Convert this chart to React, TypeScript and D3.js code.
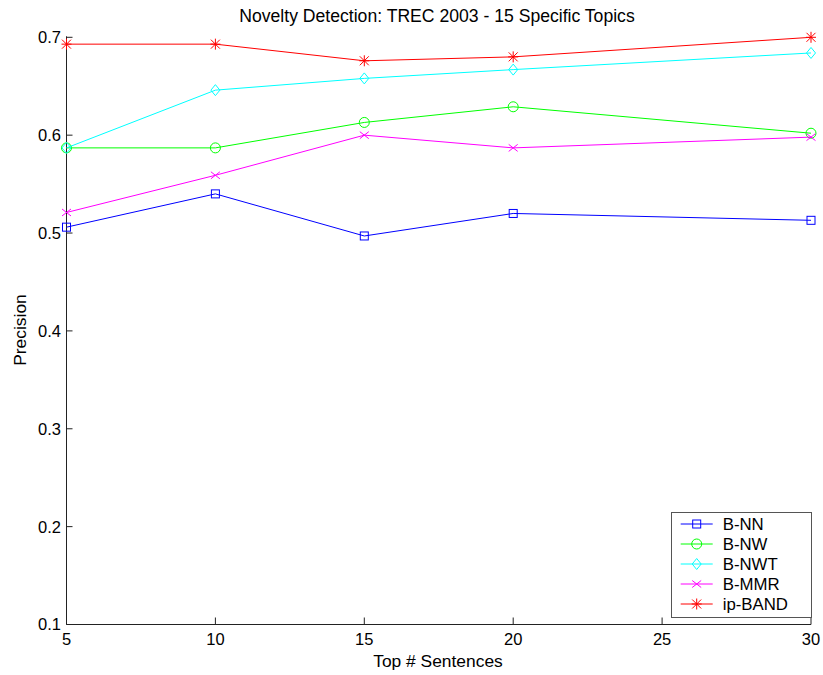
import React from "react";
import * as d3 from "d3";

const xValues = [5, 10, 15, 20, 30];
const xTicks = [5, 10, 15, 20, 25, 30];
const yTicks = [0.1, 0.2, 0.3, 0.4, 0.5, 0.6, 0.7];
const seriesNames = ["B-NN", "B-NW", "B-NWT", "B-MMR", "ip-BAND"];
const seriesColors = ["#0000ff", "#00ff00", "#00ffff", "#ff00ff", "#ff0000"];
const seriesMarkers = ["square", "circle", "diamond", "x", "star"];
const bNN = [0.506, 0.540, 0.497, 0.520, 0.513];
const bNW = [0.587, 0.587, 0.613, 0.629, 0.602];
const bNWT = [0.587, 0.646, 0.658, 0.667, 0.684];
const bMMR = [0.521, 0.559, 0.600, 0.587, 0.598];
const ipBAND = [0.693, 0.693, 0.676, 0.680, 0.700];
const seriesValues = [bNN, bNW, bNWT, bMMR, ipBAND];

const W = 823, H = 675;
const left = 66.5, right = 811, top = 37.3, bottom = 624.5;
const FONT = "'Liberation Sans', Arial, sans-serif";

function Marker({ type, x, y, color }: { type: string; x: number; y: number; color: string }) {
  const s = 4.5;
  switch (type) {
    case "square":
      return <rect x={x - 4} y={y - 4} width={8} height={8} fill="none" stroke={color} strokeWidth={1} />;
    case "circle":
      return <circle cx={x} cy={y} r={5} fill="none" stroke={color} strokeWidth={1} />;
    case "diamond":
      return <path d={`M${x},${y - 5.5}L${x + 4.5},${y}L${x},${y + 5.5}L${x - 4.5},${y}Z`} fill="none" stroke={color} strokeWidth={1} />;
    case "x":
      return <path d={`M${x - s},${y - 3.5}L${x + s},${y + 3.5}M${x - s},${y + 3.5}L${x + s},${y - 3.5}`} stroke={color} strokeWidth={1} />;
    case "star":
      return (
        <path
          d={`M${x - 4.5},${y - 4.5}L${x + 4.5},${y + 4.5}M${x - 4.5},${y + 4.5}L${x + 4.5},${y - 4.5}M${x},${y - 5.5}L${x},${y + 5.5}M${x - 5},${y}L${x + 5},${y}`}
          stroke={color}
          strokeWidth={1}
        />
      );
  }
  return null;
}

export default function App() {
  const x = d3.scaleLinear().domain([5, 30]).range([left, right]);
  const y = d3.scaleLinear().domain([0.1, 0.7]).range([bottom, top]);
  const line = d3
    .line<number>()
    .x((_, i) => x(xValues[i]))
    .y((d) => y(d));

  const legX = 671.5, legY = 512.5, legW = 140, legH = 105;

  return (
    <svg width={W} height={H} style={{ position: "absolute", left: 0, top: 0, background: "#fff" }} fontFamily={FONT}>
      <rect x={0} y={0} width={W} height={H} fill="#fff" />
      <text x={437} y={22} textAnchor="middle" fontSize={17.6} fill="#000">
        Novelty Detection: TREC 2003 - 15 Specific Topics
      </text>
      {/* axes */}
      <line x1={left} y1={top - 1} x2={left} y2={bottom} stroke="#222" strokeWidth={1} />
      <line x1={left} y1={bottom} x2={right} y2={bottom} stroke="#222" strokeWidth={1} />
      {yTicks.map((t) => (
        <g key={"y" + t}>
          <line x1={left} x2={left + 6} y1={y(t)} y2={y(t)} stroke="#222" />
          <text x={61} y={y(t)} dy="0.36em" textAnchor="end" fontSize={16.5} fill="#000">
            {d3.format(".1f")(t)}
          </text>
        </g>
      ))}
      {xTicks.map((t) => (
        <g key={"x" + t}>
          <line x1={x(t)} x2={x(t)} y1={bottom} y2={bottom - 7} stroke="#222" />
          <text x={x(t)} y={639} dy="0.36em" textAnchor="middle" fontSize={16.5} fill="#000">
            {t}
          </text>
        </g>
      ))}
      <text x={438} y={661} dy="0.36em" textAnchor="middle" fontSize={17.4} fill="#000">
        Top # Sentences
      </text>
      <text transform="translate(20,330) rotate(-90)" dy="0.36em" textAnchor="middle" fontSize={17.4} fill="#000">
        Precision
      </text>
      {/* series */}
      {seriesValues.map((vals, si) => (
        <g key={seriesNames[si]}>
          <path d={line(vals) || ""} fill="none" stroke={seriesColors[si]} strokeWidth={1} />
          {vals.map((v, i) => (
            <Marker key={i} type={seriesMarkers[si]} x={x(xValues[i])} y={y(v)} color={seriesColors[si]} />
          ))}
        </g>
      ))}
      {/* legend */}
      <rect x={legX} y={legY} width={legW} height={legH} fill="#fff" stroke="#555" strokeWidth={1} />
      {seriesNames.map((n, i) => {
        const cy = 524 + i * 20;
        return (
          <g key={"leg" + n}>
            <line x1={680.7} x2={712.7} y1={cy} y2={cy} stroke={seriesColors[i]} strokeWidth={1} />
            <Marker type={seriesMarkers[i]} x={696.7} y={cy} color={seriesColors[i]} />
            <text x={722.7} y={cy} dy="0.36em" fontSize={16.8} fill="#000">
              {n}
            </text>
          </g>
        );
      })}
    </svg>
  );
}
